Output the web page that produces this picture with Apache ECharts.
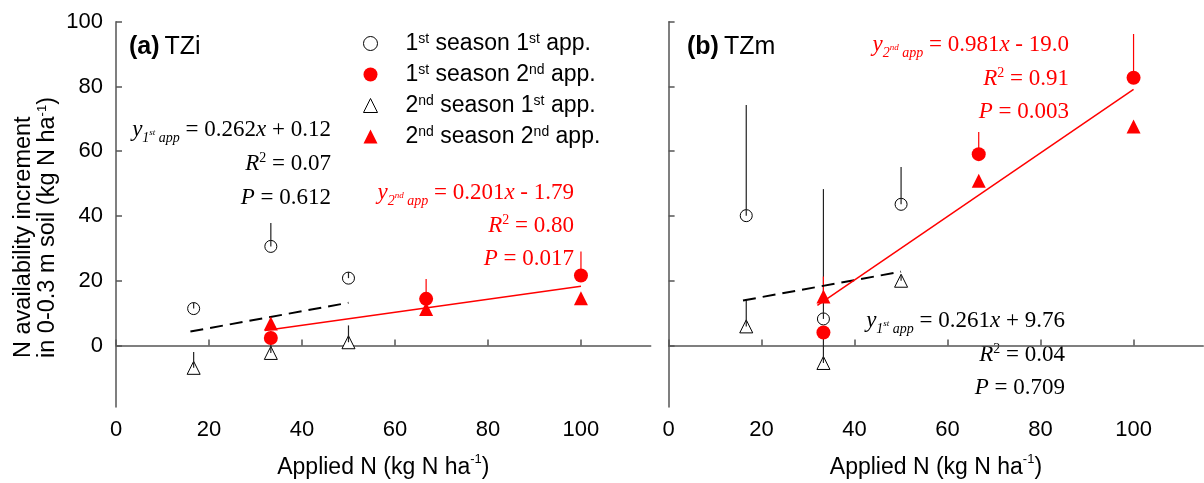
<!DOCTYPE html>
<html><head><meta charset="utf-8">
<script src="https://cdn.jsdelivr.net/npm/echarts@6/dist/echarts.min.js"></script>
<style>html,body{margin:0;padding:0;background:#fff}#c{width:1204px;height:483px}</style>
</head><body><div id="c"></div>
<script>
// ---- data ----
const xTicks = [0, 20, 40, 60, 80, 100];
const yTicks = [0, 20, 40, 60, 80, 100];
const rate1st = [16.7, 33.3, 50];      // 1st application rates
const rate2nd = [33.3, 66.7, 100];     // 2nd application rates
const legendNames = ['1st season 1st app.', '1st season 2nd app.', '2nd season 1st app.', '2nd season 2nd app.'];
const legendLabels = ['1{s|st} season 1{s|st} app.', '1{s|st} season 2{s|nd} app.', '2{s|nd} season 1{s|st} app.', '2{s|nd} season 2{s|nd} app.'];

// (a) TZi
const tziS1A1 = [11.4, 30.6, 20.8];   const tziS1A1Err = [1.9, 7.2, 1.9];
const tziS1A2 = [2.3, 14.4, 21.6];    const tziS1A2Err = [0, 6.1, 7.4];
const tziS2A1 = [-6.9, -2.3, 1.0];    const tziS2A1Err = [4.9, 6.6, 5.2];
const tziS2A2 = [6.8, 11.3, 14.6];    const tziS2A2Err = [0, 0, 0];
const tziFit1X = [16, 50];  const tziFit1Y = [4.3, 13.2];
const tziFit2X = [32, 100]; const tziFit2Y = [4.6, 18.3];

// (b) TZm
const tzmS1A1 = [40.1, 8.2, 43.6];    const tzmS1A1Err = [34.2, 40.1, 11.5];
const tzmS1A2 = [4.0, 59.1, 82.7];    const tzmS1A2Err = [0, 6.8, 13.5];
const tzmS2A1 = [5.9, -5.4, 20.0];    const tzmS2A1Err = [8.2, 10.0, 1.5];
const tzmS2A2 = [15.1, 50.9, 67.6];   const tzmS2A2Err = [6.2, 0, 0];
const tzmFit1X = [16, 50];  const tzmFit1Y = [13.9, 22.8];
const tzmFit2X = [32, 100]; const tzmFit2Y = [12.4, 79.1];

// ---- helpers ----
const SANS = 'Liberation Sans, Arial, sans-serif';
const SERIF = 'Liberation Serif, Times New Roman, serif';
const RED = '#ff0000';
const pts = (xs, ys) => xs.map((x, i) => [x, ys[i]]);

function errSeries(gi, xs, ys, errs, color, z) {
  const data = [];
  xs.forEach((x, i) => { if (errs[i] > 0) data.push([x, ys[i], ys[i] + errs[i]]); });
  return {
    type: 'custom', xAxisIndex: gi, yAxisIndex: gi, z: z, silent: true,
    encode: { x: 0, y: [1, 2] },
    data: data,
    renderItem: (params, api) => {
      const p0 = api.coord([api.value(0), api.value(1)]);
      const p1 = api.coord([api.value(0), api.value(2)]);
      return { type: 'line', shape: { x1: p0[0], y1: p0[1], x2: p1[0], y2: p1[1] },
               style: { stroke: color, lineWidth: 1.2 } };
    }
  };
}
function openScatter(gi, name, xs, ys, symbol, size) {
  return { type: 'scatter', name: name, xAxisIndex: gi, yAxisIndex: gi, z: 2,
    symbol: symbol, symbolSize: size, data: pts(xs, ys),
    itemStyle: { color: '#fff', borderColor: '#000', borderWidth: 1, opacity: 1 } };
}
function fillScatter(gi, name, xs, ys, symbol, size) {
  return { type: 'scatter', name: name, xAxisIndex: gi, yAxisIndex: gi, z: 6,
    symbol: symbol, symbolSize: size, data: pts(xs, ys),
    itemStyle: { color: RED, opacity: 1 } };
}
function fitLine(gi, xs, ys, color, dashed) {
  return { type: 'line', xAxisIndex: gi, yAxisIndex: gi, z: 5, symbol: 'none', silent: true,
    data: pts(xs, ys),
    lineStyle: { color: color, width: dashed ? 2 : 1.5, type: dashed ? [13, 7] : 'solid' } };
}
function serifRich(c) {
  return {
    i: { fontFamily: SERIF, fontStyle: 'italic', fontSize: 23, lineHeight: 30, color: c },
    n: { fontFamily: SERIF, fontSize: 23, lineHeight: 30, color: c },
    sb: { fontFamily: SERIF, fontStyle: 'italic', fontSize: 14, lineHeight: 14, verticalAlign: 'bottom', color: c },
    ss: { fontFamily: SERIF, fontStyle: 'italic', fontSize: 9, lineHeight: 9, verticalAlign: 'bottom', padding: [0, 0, 8, 0], color: c },
    sp: { fontFamily: SERIF, fontSize: 14, lineHeight: 14, verticalAlign: 'top', padding: [2, 0, 0, 0], color: c }
  };
}
function ann(x, y, txt, c) {
  return { type: 'text', x: x, y: y, silent: true,
    style: { text: txt, align: 'right', verticalAlign: 'middle', rich: serifRich(c), fill: c } };
}
const supRich = (fs, lh) => ({
  m: { fontFamily: SANS, fontSize: fs, lineHeight: lh, color: '#000' },
  s: { fontFamily: SANS, fontSize: 13, lineHeight: 13, verticalAlign: 'top', color: '#000' }
});

function xAxis(gi) {
  return { gridIndex: gi, type: 'value', min: 0, max: 115,
    axisLine: { lineStyle: { color: '#555', width: 1.5 } },
    axisTick: { inside: true, length: 6, customValues: xTicks, lineStyle: { color: '#555', width: 1.5 } },
    axisLabel: { customValues: xTicks, fontFamily: SANS, fontSize: 22, color: '#000', margin: 12 },
    splitLine: { show: false },
    name: '{m|Applied N (kg N ha}{s|-1}{m|)}', nameLocation: 'middle', nameGap: 46,
    nameTextStyle: { rich: supRich(23, 29) } };
}
function yAxis(gi) {
  return { gridIndex: gi, type: 'value', min: -19, max: 100,
    axisLine: { show: true, lineStyle: { color: '#555', width: 1.5 } },
    axisTick: { show: true, inside: true, length: 6, customValues: yTicks, lineStyle: { color: '#555', width: 1.5 } },
    axisLabel: { show: gi === 0, customValues: yTicks, fontFamily: SANS, fontSize: 22, color: '#000', margin: 13 },
    splitLine: { show: false } };
}

const series = [
  // panel a
  openScatter(0, legendNames[0], rate1st, tziS1A1, 'circle', 12),
  openScatter(0, legendNames[2], rate1st, tziS2A1, 'triangle', 13),
  errSeries(0, rate1st, tziS1A1, tziS1A1Err, '#222', 3),
  errSeries(0, rate1st, tziS2A1, tziS2A1Err, '#222', 3),
  errSeries(0, rate2nd, tziS1A2, tziS1A2Err, RED, 4),
  errSeries(0, rate2nd, tziS2A2, tziS2A2Err, RED, 4),
  fillScatter(0, legendNames[1], rate2nd, tziS1A2, 'circle', 14),
  fillScatter(0, legendNames[3], rate2nd, tziS2A2, 'triangle', 14),
  fitLine(0, tziFit1X, tziFit1Y, '#000', true),
  fitLine(0, tziFit2X, tziFit2Y, RED, false),
  // panel b
  openScatter(1, legendNames[0], rate1st, tzmS1A1, 'circle', 12),
  openScatter(1, legendNames[2], rate1st, tzmS2A1, 'triangle', 13),
  errSeries(1, rate1st, tzmS1A1, tzmS1A1Err, '#222', 3),
  errSeries(1, rate1st, tzmS2A1, tzmS2A1Err, '#222', 3),
  errSeries(1, rate2nd, tzmS1A2, tzmS1A2Err, RED, 4),
  errSeries(1, rate2nd, tzmS2A2, tzmS2A2Err, RED, 4),
  fillScatter(1, legendNames[1], rate2nd, tzmS1A2, 'circle', 14),
  fillScatter(1, legendNames[3], rate2nd, tzmS2A2, 'triangle', 14),
  fitLine(1, tzmFit1X, tzmFit1Y, '#000', true),
  fitLine(1, tzmFit2X, tzmFit2Y, RED, false)
];

const titleRich = {
  b: { fontFamily: SANS, fontSize: 25, fontWeight: 'bold', color: '#000' },
  m: { fontFamily: SANS, fontSize: 25, fontWeight: 'normal', color: '#000' }
};
const chart = echarts.init(document.getElementById('c'), null, { renderer: 'canvas' });
chart.setOption({
  backgroundColor: '#fff',
  animation: false,
  grid: [
    { left: 116, top: 21.7, width: 534.7, height: 385.3, outerBoundsMode: 'none', containLabel: false },
    { left: 668.6, top: 21.7, width: 534.7, height: 385.3, outerBoundsMode: 'none', containLabel: false }
  ],
  xAxis: [xAxis(0), xAxis(1)],
  yAxis: [yAxis(0), yAxis(1)],
  title: [
    { text: '{b|(a)} {m|TZi}', left: 124, top: 30, textStyle: { fontWeight: 'normal', rich: titleRich } },
    { text: '{b|(b)} {m|TZm}', left: 682, top: 30, textStyle: { fontWeight: 'normal', rich: titleRich } }
  ],
  legend: {
    data: legendNames, orient: 'vertical', left: 358, top: 27, itemGap: 8,
    itemWidth: 14, itemHeight: 14, selectedMode: false,
    itemStyle: { borderWidth: 1 },
    formatter: (name) => legendLabels[legendNames.indexOf(name)],
    textStyle: { fontFamily: SANS, fontSize: 23, color: '#000', padding: [0, 0, 0, 23], rich: {
      s: { fontFamily: SANS, fontSize: 14, lineHeight: 14, verticalAlign: 'top', color: '#000' } } }
  },
  graphic: [
    { type: 'text', x: 36, y: 358, rotation: Math.PI / 2, silent: true,
      style: { text: '{m|N availability increment}\n{m|in 0-0.3 m soil (kg N ha}{s|-1}{m|)}',
               align: 'left', verticalAlign: 'middle', rich: supRich(23.5, 24) } },
    ann(331, 130, '{i|y}{sb|1}{ss|st}{sb| app}{n| = 0.262}{i|x}{n| + 0.12}', '#000'),
    ann(331, 164, '{i|R}{sp|2}{n| = 0.07}', '#000'),
    ann(331, 198, '{i|P}{n| = 0.612}', '#000'),
    ann(574, 193, '{i|y}{sb|2}{ss|nd}{sb| app}{n| = 0.201}{i|x}{n| - 1.79}', RED),
    ann(574, 226, '{i|R}{sp|2}{n| = 0.80}', RED),
    ann(574, 259, '{i|P}{n| = 0.017}', RED),
    ann(1069, 45, '{i|y}{sb|2}{ss|nd}{sb| app}{n| = 0.981}{i|x}{n| - 19.0}', RED),
    ann(1069, 79, '{i|R}{sp|2}{n| = 0.91}', RED),
    ann(1069, 112, '{i|P}{n| = 0.003}', RED),
    ann(1065, 321, '{i|y}{sb|1}{ss|st}{sb| app}{n| = 0.261}{i|x}{n| + 9.76}', '#000'),
    ann(1065, 355, '{i|R}{sp|2}{n| = 0.04}', '#000'),
    ann(1065, 388, '{i|P}{n| = 0.709}', '#000')
  ],
  series: series
});
</script>
</body></html>
